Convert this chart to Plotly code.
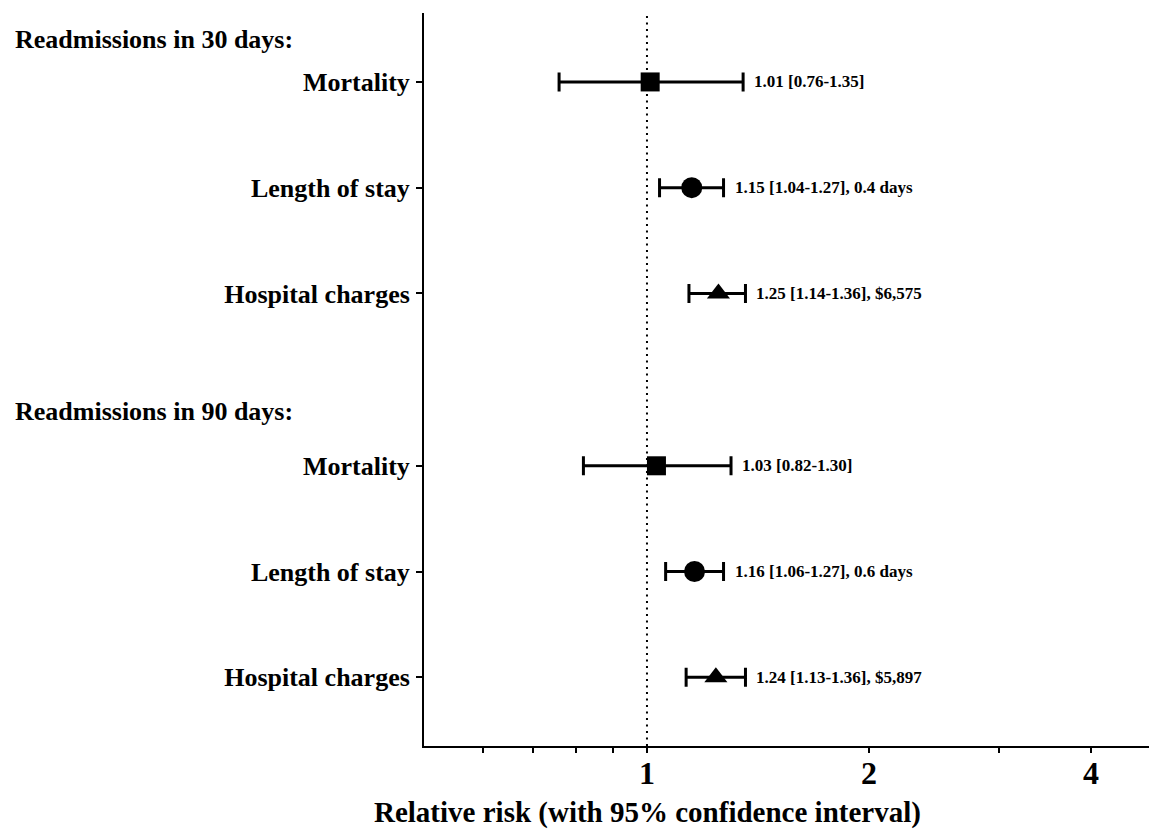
import numpy as np
import plotly.graph_objects as go

# ---- data ----
groups = ["Readmissions in 30 days:", "Readmissions in 90 days:"]
outcomes = ["Mortality", "Length of stay", "Hospital charges"]
symbols = ["square", "circle", "triangle-up"]

rr_30 = [1.01, 1.15, 1.25]
lo_30 = [0.76, 1.04, 1.14]
hi_30 = [1.35, 1.27, 1.36]
extra_30 = ["", ", 0.4 days", ", $6,575"]

rr_90 = [1.03, 1.16, 1.24]
lo_90 = [0.82, 1.06, 1.13]
hi_90 = [1.30, 1.27, 1.36]
extra_90 = ["", ", 0.6 days", ", $5,897"]

x_tickvals = [0.6, 0.7, 0.8, 0.9, 1, 2, 3, 4]
x_ticktext = ["", "", "", "", "1", "2", "", "4"]

# ---- layout helpers ----
FONT = "Liberation Serif, Times New Roman, serif"
group_start = [1.0, 4.63]
header_y = [0.60, 4.12]
marker_sizes = {"square": 19, "circle": 21, "triangle-up": 20}
PLOT_W = 733

fig = go.Figure()
annotations = []
tick_y, tick_txt = [], []

for g, (rr, lo, hi, extra) in enumerate([(rr_30, lo_30, hi_30, extra_30),
                                         (rr_90, lo_90, hi_90, extra_90)]):
    for i in range(3):
        y = group_start[g] + i
        tick_y.append(y)
        tick_txt.append(outcomes[i])
        fig.add_trace(go.Scatter(
            x=[rr[i]], y=[y], mode="markers",
            marker=dict(symbol=symbols[i], size=marker_sizes[symbols[i]], color="black"),
            error_x=dict(type="data", symmetric=False,
                         array=[hi[i] - rr[i]], arrayminus=[rr[i] - lo[i]],
                         color="black", thickness=3, width=9.5),
            showlegend=False, hoverinfo="skip"))
        annotations.append(dict(
            x=np.log10(hi[i]), y=y, xref="x", yref="y",
            text=f"{rr[i]:.2f} [{lo[i]:.2f}-{hi[i]:.2f}]{extra[i]}",
            showarrow=False, xanchor="left", yanchor="middle", xshift=9,
            font=dict(family=FONT, size=17, color="black", weight="bold")))
    annotations.append(dict(
        x=(13 - 424) / PLOT_W, y=header_y[g], xref="paper", yref="y",
        text=groups[g], showarrow=False, xanchor="left", yanchor="middle",
        font=dict(family=FONT, size=26, color="black", weight="bold")))

annotations.append(dict(
    x=(647 - 424) / PLOT_W, y=-(812 - 746) / 733, xref="paper", yref="paper",
    text="Relative risk (with 95% confidence interval)", showarrow=False,
    xanchor="center", yanchor="middle",
    font=dict(family=FONT, size=29, color="black", weight="bold")))

fig.add_shape(type="line", x0=1, x1=1, xref="x", y0=0, y1=1, yref="paper",
              line=dict(color="black", width=2, dash="2px,4.5px"))

# page body has an 8px default margin; compensate so the plot lands where the reference has it
fig.update_layout(
    width=1149, height=822,
    margin=dict(l=416, r=0, t=5, b=84),
    paper_bgcolor="white", plot_bgcolor="white",
    showlegend=False,
    annotations=annotations,
    xaxis=dict(type="log", range=[np.log10(0.4985), np.log10(4.915)],
               tickvals=x_tickvals, ticktext=x_ticktext,
               ticks="outside", ticklen=5, tickwidth=2, tickcolor="black",
               showline=True, linecolor="black", linewidth=2,
               showgrid=False, zeroline=False, ticklabelstandoff=-7,
               tickfont=dict(family=FONT, size=32, color="black", weight="bold")),
    yaxis=dict(range=[7.28, 0.348], tickvals=tick_y, ticktext=tick_txt,
               ticks="outside", ticklen=6, tickwidth=2, tickcolor="black",
               showline=True, linecolor="black", linewidth=2,
               showgrid=False, zeroline=False, ticklabelstandoff=1,
               tickfont=dict(family=FONT, size=26, color="black", weight="bold")),
)

fig.write_html("out.html")
